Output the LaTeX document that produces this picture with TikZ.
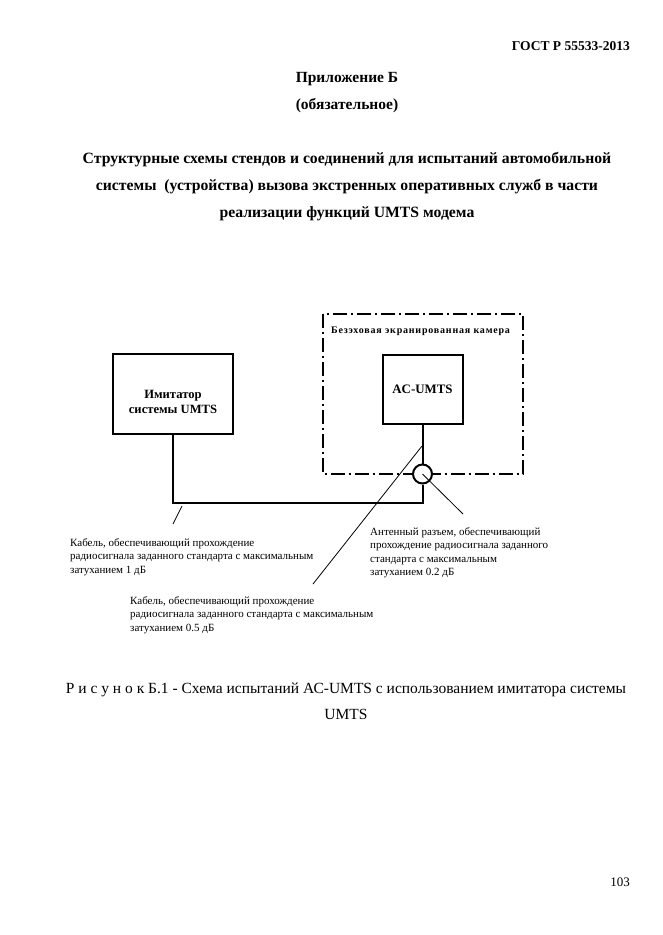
\documentclass[tikz,border=0pt]{standalone}
\usepackage{fontspec}
\setmainfont{Liberation Serif}
\begin{document}
\begin{tikzpicture}[x=1pt,y=-1pt,
  box/.style={draw,line width=2pt,inner sep=0pt},
  thinline/.style={line width=0.8pt},
  wire/.style={line width=2pt},
  txt/.style={inner sep=0pt,align=left,anchor=north west,font=\fontsize{11}{13.6}\selectfont},
  hdr/.style={inner sep=0pt,font=\bfseries\fontsize{15.5}{27}\selectfont,align=center}]
\useasboundingbox (0,0) rectangle (662,935);
% header texts
\node[inner sep=0pt,anchor=east,font=\bfseries\fontsize{13.5}{14}\selectfont] (gost) at (630,46) {ГОСТ Р 55533-2013};
\node[hdr] (app) at (347,79) {Приложение Б};
\node[hdr] (oblig) at (347,106) {(обязательное)};
\node[hdr,font=\bfseries\fontsize{15.7}{27}\selectfont] (title) at (347,187) {Структурные схемы стендов и соединений для испытаний автомобильной\\системы~ (устройства) вызова экстренных оперативных служб в части\\реализации функций UMTS модема};
% chamber
\draw[line width=2pt,dash pattern=on 14pt off 4pt on 2pt off 4pt] (323,314) rectangle (523,474);
\node[inner sep=0pt,anchor=west,font=\bfseries\fontsize{10}{12}\selectfont\addfontfeature{LetterSpace=8}] (chamber) at (331,331) {Безэховая экранированная камера};
% boxes
\node[box,minimum width=120pt,minimum height=80pt] (imit) at (173,394) {};
\node[inner sep=0pt,align=center,font=\bfseries\fontsize{12.6}{15}\selectfont] (imitlbl) at (173,402) {Имитатор\\системы UMTS};
\node[box,minimum width=80pt,minimum height=69pt,font=\bfseries\fontsize{12.9}{14}\selectfont] (ac) at (422.5,389.5) {AC-UMTS};
\node[draw,circle,line width=2pt,minimum size=19pt,inner sep=0pt,fill=white] (conn) at (422.5,474) {};
% wires
\coordinate (bend) at (422.5,503);
\draw[wire] (ac.south) -- (conn.north);
\draw[wire] (conn.south) -- (bend) -| (imit.south);
% pointers
\coordinate (p1a) at (182,506);
\coordinate (p1b) at (173,524);
\draw[thinline] (p1a) -- (p1b);
\coordinate (p2a) at (422,446);
\coordinate (p2b) at (313,584);
\draw[thinline] (p2a) -- (p2b);
\coordinate (p3b) at (463,514);
\draw[thinline] (conn.center) -- (p3b);
% labels
\node[txt] (lab1) at (70,538) {Кабель, обеспечивающий прохождение\\радиосигнала заданного стандарта с максимальным\\затуханием 1 дБ};
\node[txt] (lab2) at (130,596) {Кабель, обеспечивающий прохождение\\радиосигнала заданного стандарта с максимальным\\затуханием 0.5 дБ};
\node[txt] (lab3) at (370,527) {Антенный разъем, обеспечивающий\\прохождение радиосигнала заданного\\стандарта с максимальным\\затуханием 0.2 дБ};
% caption
\node[inner sep=0pt,align=center,font=\fontsize{15.5}{26}\selectfont] (cap) at (346,701) {Р и с у н о к Б.1 - Схема испытаний АС-UMTS с использованием имитатора системы\\UMTS};
\node[inner sep=0pt,font=\fontsize{13}{14}\selectfont] (page) at (620,882) {103};
\end{tikzpicture}
\end{document}
